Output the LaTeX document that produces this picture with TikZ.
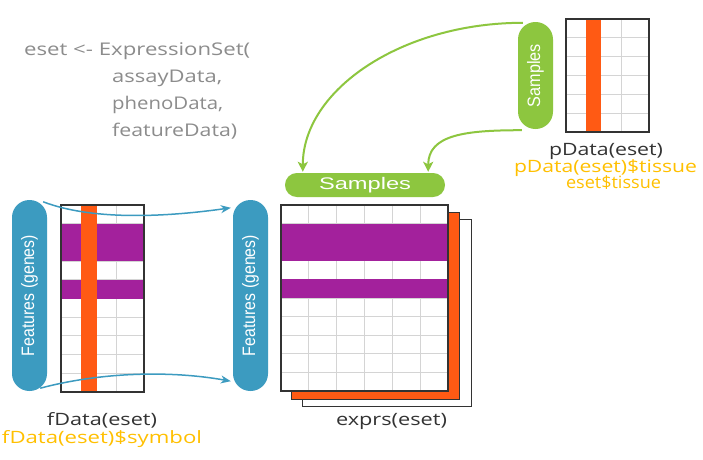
\documentclass[tikz,border=0pt]{standalone}
\usepackage{fontspec}
\setmainfont{Open Sans}
\newfontfamily\pillfont{Liberation Sans}
\usetikzlibrary{arrows.meta,calc}
\definecolor{fblue}{HTML}{3C9BC0}
\definecolor{sgreen}{HTML}{8DC63F}
\definecolor{purp}{HTML}{A3219C}
\definecolor{orng}{HTML}{FF5A14}
\definecolor{codegray}{HTML}{8C8C8C}
\definecolor{labdark}{HTML}{333333}
\definecolor{labyel}{HTML}{FFC000}
\definecolor{gridg}{HTML}{D4D4D4}
\definecolor{bord}{HTML}{333333}
\begin{document}
\begin{tikzpicture}[x=1pt,y=-1pt,
  codetxt/.style={inner sep=0pt, anchor=base west, text=codegray, font=\fontsize{17.5pt}{20pt}\selectfont},
  labtxt/.style={inner sep=0pt, anchor=base, font=\fontsize{17pt}{20pt}\selectfont},
  pillbox/.style={rectangle, inner sep=0pt, text=white, font=\pillfont\fontsize{16.8pt}{19pt}\selectfont},
  vfont/.style={font=\pillfont\fontsize{18pt}{20pt}\selectfont},
  bluepill/.style={pillbox, vfont, fill=fblue, minimum width=35pt, minimum height=191pt, rounded corners=17.4pt},
  tbl/.style={rectangle, fill=white, inner sep=0pt, outer sep=0pt, anchor=north west},
  gridl/.style={draw=gridg, line width=0.9pt},
  border/.style={draw=bord, line width=1.2pt},
  bluearr/.style={draw=fblue, line width=1.5pt, -{Stealth[length=10pt,width=8pt]}},
  greenarr/.style={draw=sgreen, line width=2pt, -{Stealth[length=10pt,width=10pt,inset=2.5pt]}}
]
\useasboundingbox[fill=white] (0,0) rectangle (703,459);

% ---------- code text ----------
\node[codetxt] (c1) at (24,55) {\resizebox{226pt}{\height}{eset <- ExpressionSet(}};
\node[codetxt] (c2) at (112,82) {\resizebox{110pt}{\height}{assayData,}};
\node[codetxt] (c3) at (112,109) {\resizebox{111pt}{\height}{phenoData,}};
\node[codetxt] (c4) at (112,136) {\resizebox{125pt}{\height}{featureData)}};

% ---------- fData table ----------
\node[tbl, minimum width=83pt, minimum height=187pt] (ft) at (61,205) {};
\foreach \k in {1,2} \draw[gridl] (61+\k*27.667,205) -- (61+\k*27.667,392);
\foreach \k in {1,...,9} \draw[gridl] (61,205+\k*18.7) -- (144,205+\k*18.7);
\fill[purp] (61,223.7) rectangle (144,261.1);
\fill[purp] (61,279.8) rectangle (144,298.5);
\fill[orng] (80.5,205) rectangle (96.5,392);
\draw[border] (ft.north west) rectangle (ft.south east);

% ---------- exprs sheets ----------
\node[tbl, minimum width=169pt, minimum height=187pt, draw=bord, line width=1pt] (s2) at (302,219) {};
\node[tbl, minimum width=168pt, minimum height=187pt, fill=orng, draw=bord, line width=1pt] (s1) at (291,212) {};
\node[tbl, minimum width=167pt, minimum height=186pt] (et) at (281,205) {};
\foreach \k in {1,...,5} \draw[gridl] (281+\k*27.833,205) -- (281+\k*27.833,391);
\foreach \k in {1,...,9} \draw[gridl] (281,205+\k*18.6) -- (448,205+\k*18.6);
\fill[purp] (281,223.6) rectangle (448,260.8);
\fill[purp] (281,279.4) rectangle (448,298);
\draw[border] (et.north west) rectangle (et.south east);

% ---------- pData table ----------
\node[tbl, minimum width=83pt, minimum height=113pt] (pt) at (566,19) {};
\foreach \k in {1,2} \draw[gridl] (566+\k*27.667,19) -- (566+\k*27.667,132);
\foreach \k in {1,...,5} \draw[gridl] (566,19+\k*18.833) -- (649,19+\k*18.833);
\fill[orng] (586,19) rectangle (601,132);
\draw[border] (pt.north west) rectangle (pt.south east);

% ---------- pills ----------
\node[bluepill] (lf) at (29.5,295.5) {\rotatebox{90}{\resizebox{121pt}{\height}{Features (genes)}}};
\node[bluepill] (rf) at (250.5,295.5) {\rotatebox{90}{\resizebox{121pt}{\height}{Features (genes)}}};
\node[pillbox, fill=sgreen, minimum width=160pt, minimum height=24pt, rounded corners=11.9pt] (hp) at (365,185) {\resizebox{92pt}{\height}{Samples}};
\node[pillbox, vfont, fill=sgreen, minimum width=35pt, minimum height=107pt, rounded corners=17.4pt] (vp) at (535.5,75.5) {\rotatebox{90}{\resizebox{63pt}{\height}{Samples}}};

% ---------- labels ----------
\node[labtxt, text=labdark] (fl1) at (102,425) {\resizebox{110pt}{\height}{fData(eset)}};
\node[labtxt, text=labyel] (fl2) at (102,443) {\resizebox{200pt}{\height}{fData(eset)\$symbol}};
\node[labtxt, text=labdark] (el) at (391.5,425) {\resizebox{111pt}{\height}{exprs(eset)}};
\node[labtxt, text=labdark] (pl1) at (606,155) {\resizebox{114pt}{\height}{pData(eset)}};
\node[labtxt, text=labyel] (pl2) at (605.5,172) {\resizebox{183pt}{\height}{pData(eset)\$tissue}};
\node[labtxt, text=labyel] (pl3) at (613.5,188) {\resizebox{95pt}{\height}{eset\$tissue}};

% ---------- connectors ----------
\draw[bluearr] ($(lf.north east)+(-4,2)$) .. controls +(47,18) and +(-71,10) .. ($(rf.north west)+(-2,8)$);
\draw[bluearr] ($(lf.south east)+(-7,-3)$) .. controls +(60,-16) and +(-61,-11) .. ($(rf.south west)+(-2,-10)$);
\draw[greenarr] ($(vp.north west)+(5,1)$) .. controls +(-121,0) and +(0,-82) .. ($(hp.north west)+(18,-1)$);
\draw[greenarr] ($(vp.south west)+(4,1)$) .. controls +(-57,0) and +(0,-37) .. ($(hp.north east)+(-17,-1)$);
\end{tikzpicture}
\end{document}
